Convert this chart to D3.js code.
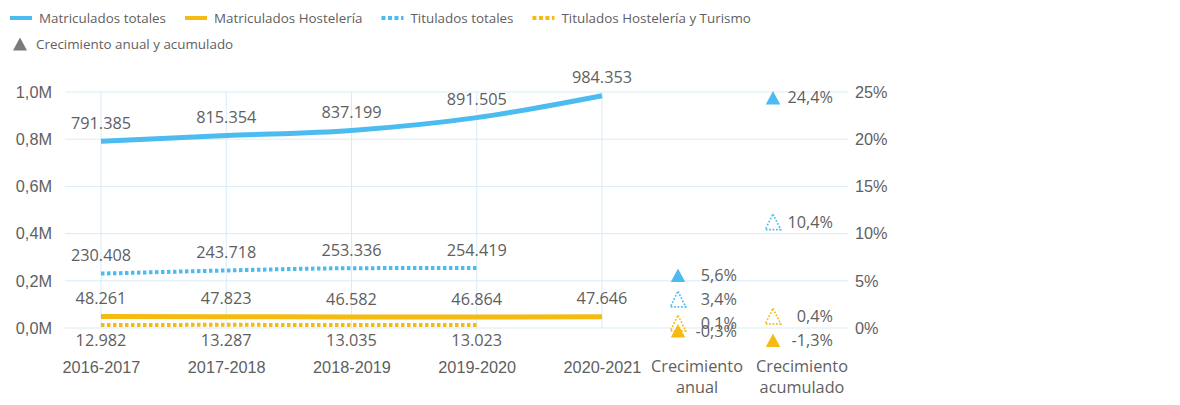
<!DOCTYPE html>
<html lang="es">
<head>
  <meta charset="UTF-8">
  <title>Matriculados y titulados</title>
  <script src="https://d3js.org/d3.v7.min.js"></script>
  <style>
    html, body { margin: 0; padding: 0; background: #fff; }
    body { font-family: "Open Sans", "Noto Sans", sans-serif; }
    svg text { fill: #5f5f5f; }
    .grid line { stroke: #d9ebf6; stroke-width: 1; }
    .axis text { font-size: 16.3px; }
    .label { font-size: 16.3px; }
    .legend text { font-size: 13.4px; }
  </style>
</head>
<body>
  <svg width="1180" height="405"></svg>

  <script>
    const categories = ["2016-2017", "2017-2018", "2018-2019", "2019-2020", "2020-2021"];
    const matriculadosTotales = [791385, 815354, 837199, 891505, 984353];
    const matriculadosHosteleria = [48261, 47823, 46582, 46864, 47646];
    const tituladosTotales = [230408, 243718, 253336, 254419];
    const tituladosHosteleria = [12982, 13287, 13035, 13023];

    const leftTicks = [0, 200000, 400000, 600000, 800000, 1000000];
    const rightTicks = [0, 5, 10, 15, 20, 25];

    const growthColumns = ["Crecimiento anual", "Crecimiento acumulado"];
    // orden: Matric. totales, Matric. Hostelería, Titulados totales, Titulados Hostelería
    const growthAnual = [5.6, -0.3, 3.4, 0.1];
    const growthAcumulado = [24.4, -1.3, 10.4, 0.4];

    const blue = "#4cbcf0", yellow = "#f6bb12";
    const series = [
      { name: "Matriculados totales", values: matriculadosTotales, color: blue, dotted: false, below: false },
      { name: "Matriculados Hostelería", values: matriculadosHosteleria, color: yellow, dotted: false, below: false },
      { name: "Titulados totales", values: tituladosTotales, color: blue, dotted: true, below: false },
      { name: "Titulados Hostelería y Turismo", values: tituladosHosteleria, color: yellow, dotted: true, below: true }
    ];

    const es = d3.formatLocale({ decimal: ",", thousands: ".", grouping: [3], currency: ["", "€"], minus: "-" });
    const fmtNum = es.format(",");
    const fmtM = d => es.format(".1f")(d / 1e6) + "M";
    const fmtPct = d => es.format(".1f")(d) + "%";

    const svg = d3.select("svg");

    const x = d3.scalePoint().domain(categories).range([101, 602]);
    const y = d3.scaleLinear().domain([0, 1000000]).range([328, 92]);
    const yPct = d3.scaleLinear().domain([0, 25]).range([328, 92]);
    const gx = d3.scalePoint().domain(growthColumns).range([697, 802]);
    // desplazamiento del triángulo y de su etiqueta respecto al centro de la columna
    const colMarker = { "Crecimiento anual": -19, "Crecimiento acumulado": -29 };
    const colLabel = { "Crecimiento anual": 40, "Crecimiento acumulado": 31 };

    // rejilla
    const grid = svg.append("g").attr("class", "grid");
    grid.selectAll(".h").data(leftTicks).join("line")
      .attr("x1", 65).attr("x2", 848)
      .attr("y1", d => y(d)).attr("y2", d => y(d));
    grid.selectAll(".v").data(categories).join("line")
      .attr("x1", d => x(d)).attr("x2", d => x(d))
      .attr("y1", y(1000000)).attr("y2", y(0));

    // ejes
    svg.append("g").attr("class", "axis")
      .attr("transform", "translate(52,0)")
      .call(d3.axisLeft(y).tickValues(leftTicks).tickFormat(fmtM).tickSize(0).tickPadding(0))
      .call(g => g.select(".domain").remove());

    svg.append("g").attr("class", "axis")
      .attr("transform", "translate(855,0)")
      .call(d3.axisRight(yPct).tickValues(rightTicks).tickFormat(d => d + "%").tickSize(0).tickPadding(0))
      .call(g => g.select(".domain").remove());

    svg.append("g").attr("class", "axis")
      .attr("transform", "translate(0,367)")
      .call(d3.axisBottom(x).tickSize(0).tickPadding(0))
      .call(g => g.select(".domain").remove())
      .selectAll("text").attr("y", 0).attr("dy", "0.35em");

    svg.selectAll("text").attr("fill", null);

    const growthLabels = svg.append("g").attr("class", "axis");
    growthLabels.selectAll("text").data(growthColumns).join("text")
      .attr("text-anchor", "middle")
      .attr("transform", d => `translate(${gx(d)},366)`)
      .each(function (d) {
        const parts = d.split(" ");
        d3.select(this).selectAll("tspan").data(parts).join("tspan")
          .attr("x", 0).attr("dy", (p, i) => i === 0 ? "0.35em" : "1.3em")
          .text(p => p);
      });

    // líneas
    const line = d3.line().x((d, i) => x(categories[i])).y(d => y(d)).curve(d3.curveMonotoneX);

    svg.append("g").selectAll("path").data(series).join("path")
      .attr("fill", "none")
      .attr("stroke", d => d.color)
      .attr("stroke-width", d => d.dotted ? 4 : 5)
      .attr("stroke-dasharray", d => d.dotted ? "3.5 2.5" : null)
      .attr("d", d => line(d.values));

    // etiquetas de datos
    series.forEach(s => {
      svg.append("g").selectAll("text").data(s.values).join("text")
        .attr("class", "label")
        .attr("text-anchor", "middle")
        .attr("x", (d, i) => x(categories[i]))
        .attr("y", d => y(d) + (s.below ? 15 : -18))
        .attr("dy", "0.35em")
        .text(d => fmtNum(d));
    });

    // triángulos de crecimiento (sólidos centrados en el valor, punteados apoyados en él)
    const growth = [];
    series.forEach((s, i) => {
      growth.push({ col: growthColumns[0], v: growthAnual[i], s });
      growth.push({ col: growthColumns[1], v: growthAcumulado[i], s });
    });
    growth.forEach(d => { d.cy = yPct(d.v) + (d.s.dotted ? -8 : 0); });
    // los punteados se bajan si chocan con el marcador de encima
    growthColumns.forEach(c => {
      const col = growth.filter(d => d.col === c).sort((a, b) => a.cy - b.cy);
      for (let i = 1; i < col.length; i++) {
        if (col[i].s.dotted && col[i].cy - col[i - 1].cy < 22) col[i].cy = col[i - 1].cy + 24;
      }
    });

    const triangle = (w, h) => `M0,${-h / 2}L${w / 2},${h / 2}L${-w / 2},${h / 2}Z`;
    const gg = svg.append("g");
    gg.selectAll("path").data(growth).join("path")
      .attr("transform", d => `translate(${gx(d.col) + colMarker[d.col]},${d.cy})`)
      .attr("d", d => d.s.dotted ? triangle(15.5, 15.5) : triangle(14.5, 13.5))
      .attr("fill", d => d.s.dotted ? "none" : d.s.color)
      .attr("stroke", d => d.s.dotted ? d.s.color : "none")
      .attr("stroke-width", 1.7)
      .attr("stroke-dasharray", d => d.s.dotted ? "1.7 1.7" : null);
    gg.selectAll("text").data(growth).join("text")
      .attr("class", "label")
      .attr("text-anchor", "end")
      .attr("x", d => gx(d.col) + colLabel[d.col])
      .attr("y", d => d.cy)
      .attr("dy", "0.35em")
      .text(d => fmtPct(d.v));

    // leyenda
    const legend = svg.append("g").attr("class", "legend");
    let lx = 10;
    series.forEach(s => {
      legend.append("line")
        .attr("x1", lx).attr("x2", lx + 22).attr("y1", 18).attr("y2", 18)
        .attr("stroke", s.color).attr("stroke-width", 4)
        .attr("stroke-dasharray", s.dotted ? "4 2.5" : null);
      const t = legend.append("text").attr("x", lx + 29).attr("y", 18).attr("dy", "0.35em").text(s.name);
      lx += 29 + t.node().getComputedTextLength() + 19;
    });
    legend.append("path")
      .attr("transform", "translate(20,44)")
      .attr("d", triangle(14, 13))
      .attr("fill", "#7a7a7a");
    legend.append("text").attr("x", 36).attr("y", 44).attr("dy", "0.35em").text("Crecimiento anual y acumulado");
  </script>
</body>
</html>
